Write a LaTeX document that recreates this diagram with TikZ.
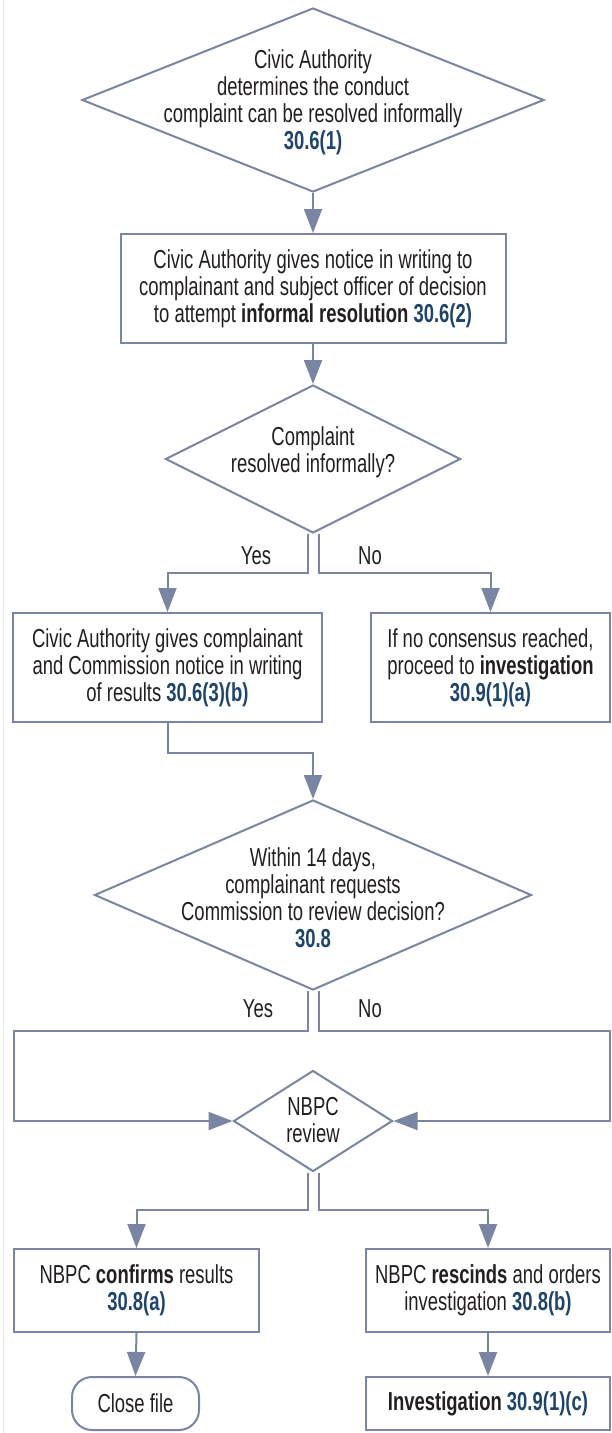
\documentclass[tikz,border=0pt]{standalone}
\usepackage{fontspec}
\setmainfont[FakeStretch=0.71]{Liberation Sans}
\usetikzlibrary{shapes.geometric,arrows.meta}
\definecolor{lc}{RGB}{122,133,163}
\definecolor{refc}{RGB}{31,68,107}
\definecolor{txt}{RGB}{35,31,32}
\definecolor{faint}{RGB}{232,232,236}
\newcommand{\rf}[1]{\textbf{\textcolor{refc}{#1}}}
\begin{document}
\begin{tikzpicture}[x=1pt,y=-1pt,
  font=\fontsize{26}{27}\selectfont, text=txt,
  box/.style={draw=lc,line width=2pt,fill=white,inner sep=0pt,align=center},
  dia/.style={draw=lc,line width=2pt,fill=white,diamond,inner sep=0pt},
  lbl/.style={align=center,inner sep=0pt},
  arr/.style={draw=lc,line width=2pt,-{Triangle[length=24pt,width=18pt]}}]
\useasboundingbox (0,0) rectangle (611,1433);
\draw[faint,line width=1pt] (3.5,0) -- (3.5,1433);

% nodes
\node[dia,minimum width=462pt,minimum height=184pt] (d1) at (313,100) {};
\node[lbl] (t1) at (313,102) {Civic Authority\\determines the conduct\\complaint can be resolved informally\\\rf{30.6(1)}};

\node[box,minimum width=385pt,minimum height=109pt] (b1) at (313,288.5)
  {Civic Authority gives notice in writing to\\complainant and subject officer of decision\\to attempt \textbf{informal resolution} \rf{30.6(2)}};

\node[dia,minimum width=295pt,minimum height=148pt] (d2) at (313,459) {};
\node[lbl] (t2) at (313,452) {Complaint\\resolved informally?};

\node[box,minimum width=309pt,minimum height=109pt] (b2) at (167.5,667.5)
  {Civic Authority gives complainant\\and Commission notice in writing\\of results \rf{30.6(3)(b)}};
\node[box,minimum width=239pt,minimum height=109pt] (b3) at (490.5,667.5)
  {If no consensus reached,\\proceed to \textbf{investigation}\\\rf{30.9(1)(a)}};

\node[dia,minimum width=437pt,minimum height=190pt] (d3) at (313,895) {};
\node[lbl] (t3) at (313,898) {Within 14 days,\\complainant requests\\Commission to review decision?\\\rf{30.8}};

\node[dia,minimum width=159pt,minimum height=101pt] (nb) at (313,1121) {};
\node[lbl] (t4) at (313,1120) {NBPC\\review};

\node[box,minimum width=245pt,minimum height=83pt] (b4) at (136.5,1290.5)
  {NBPC \textbf{confirms} results\\\rf{30.8(a)}};
\node[box,minimum width=244pt,minimum height=83pt] (b5) at (488,1290.5)
  {NBPC \textbf{rescinds} and orders\\investigation \rf{30.8(b)}};

\node[box,rounded corners=20pt,minimum width=127pt,minimum height=53pt] (cl) at (135.5,1403.5) {Close file};
\node[box,minimum width=244pt,minimum height=53pt] (b6) at (488,1403.5)
  {\textbf{Investigation} \rf{30.9(1)(c)}};

% labels
\node[lbl] (yes1) at (256,556) {Yes};
\node[lbl] (no1) at (370,556) {No};
\node[lbl] (yes2) at (258,1009) {Yes};
\node[lbl] (no2) at (370,1009) {No};

\coordinate (lx) at (14,0);
\coordinate (rx) at (610,0);

% connectors
\draw[arr] (d1.south) -- (b1.north);
\draw[arr] (b1.south) -- (d2.north);
\draw[arr] ([xshift=-5.5pt]d2.south) -- ++(0,39) -| (b2.north);
\draw[arr] ([xshift=5.5pt]d2.south) -- ++(0,39) -| (b3.north);
\draw[arr] (b2.south) -- ++(0,30) -| (d3.north);
\draw[arr] ([xshift=-5.5pt]d3.south) -- ++(0,40) -| (nb.west -| lx) -- (nb.west);
\draw[arr] ([xshift=5.5pt]d3.south) -- ++(0,40) -| (nb.east -| rx) -- (nb.east);
\draw[arr] ([xshift=-5.5pt]nb.south) -- ++(0,37) -| (b4.north);
\draw[arr] ([xshift=5.5pt]nb.south) -- ++(0,37) -| (b5.north);
\draw[arr] (b4.south) -- (cl.north);
\draw[arr] (b5.south) -- (b6.north);
\end{tikzpicture}
\end{document}
